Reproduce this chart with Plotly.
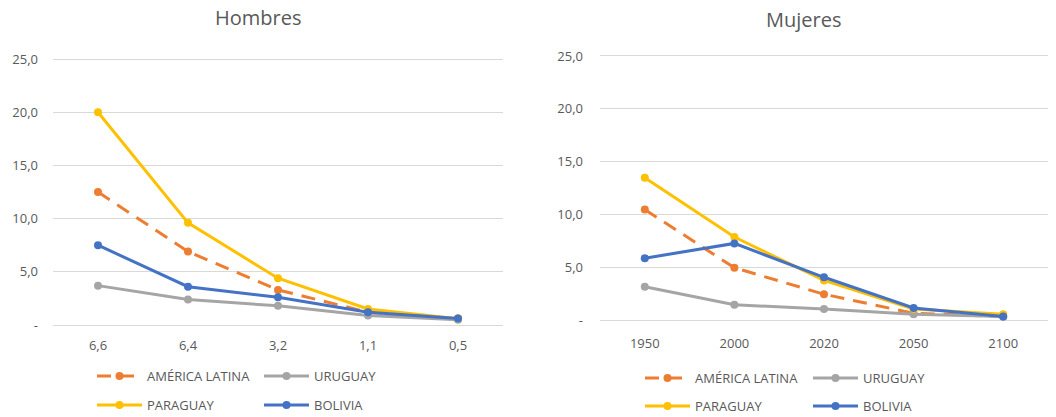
import plotly.graph_objects as go

W, H = 1056, 417

x_hombres = ["6,6", "6,4", "3,2", "1,1", "0,5"]
x_mujeres = ["1950", "2000", "2020", "2050", "2100"]

series_names = ["AMÉRICA LATINA", "URUGUAY", "PARAGUAY", "BOLIVIA"]

hombres_al = [12.5, 6.9, 3.3, 1.2, 0.6]
hombres_uy = [3.7, 2.4, 1.8, 0.9, 0.5]
hombres_py = [20.0, 9.6, 4.4, 1.5, 0.6]
hombres_bo = [7.5, 3.6, 2.6, 1.2, 0.6]

mujeres_al = [10.5, 5.0, 2.5, 0.7, 0.4]
mujeres_uy = [3.2, 1.5, 1.1, 0.6, 0.4]
mujeres_py = [13.5, 7.9, 3.8, 1.1, 0.6]
mujeres_bo = [5.9, 7.3, 4.1, 1.2, 0.4]

y_tickvals = [0, 5, 10, 15, 20, 25]
y_ticktext = ["-", "5,0", "10,0", "15,0", "20,0", "25,0"]

colors = ["#ED7D31", "#A5A5A5", "#FFC000", "#4472C4"]
dashes = ["14px,9px", "solid", "solid", "solid"]
FONT = "Open Sans"
TXT = "#595959"

fig = go.Figure()

def px_x(p):
    return p / W

def px_y(p):
    return 1 - p / H

panels = [
    ("x", "y", x_hombres, [hombres_al, hombres_uy, hombres_py, hombres_bo], ["legend", "legend", "legend2", "legend2"]),
    ("x2", "y2", x_mujeres, [mujeres_al, mujeres_uy, mujeres_py, mujeres_bo], ["legend3", "legend3", "legend4", "legend4"]),
]

for xa, ya, cats, vals, legs in panels:
    for i, (name, v) in enumerate(zip(series_names, vals)):
        fig.add_trace(go.Scatter(
            x=cats, y=v, name=name, mode="lines+markers",
            xaxis=xa, yaxis=ya, legend=legs[i],
            line=dict(color=colors[i], width=3, dash=dashes[i]),
            marker=dict(color=colors[i], size=8, symbol="circle"),
            hoverinfo="skip",
        ))

# y ranges: -0.5 .. 25.5
def ydomain(p0, p25):
    per = (p0 - p25) / 25.0
    bottom = p0 + 0.5 * per
    top = p25 - 0.5 * per
    return [px_y(bottom), px_y(top)]

axis_common = dict(showline=False, zeroline=False, ticks="", automargin=False,
                   tickfont=dict(family=FONT, size=13, color=TXT))

fig.update_layout(
    width=W, height=H,
    margin=dict(l=0, r=0, t=0, b=0, autoexpand=False),
    paper_bgcolor="white", plot_bgcolor="white",
    font=dict(family=FONT, color=TXT),
    xaxis=dict(domain=[px_x(53), px_x(503)], type="category", range=[-0.5, 4.5],
               showgrid=False, ticklabelstandoff=6, **axis_common),
    yaxis=dict(domain=ydomain(325, 59), range=[-0.5, 25.5], tickvals=y_tickvals,
               ticktext=y_ticktext, showgrid=True, gridcolor="#D9D9D9", gridwidth=1,
               ticklabelstandoff=14, **axis_common),
    xaxis2=dict(domain=[px_x(600), px_x(1048)], type="category", range=[-0.5, 4.5],
                showgrid=False, anchor="y2", ticklabelstandoff=8, **axis_common),
    yaxis2=dict(domain=ydomain(320.7, 56), range=[-0.5, 25.5], tickvals=y_tickvals,
                ticktext=y_ticktext, showgrid=True, gridcolor="#D9D9D9", gridwidth=1,
                anchor="x2", ticklabelstandoff=16, **axis_common),
    showlegend=True,
)

leg_common = dict(orientation="h", xanchor="left", yanchor="middle",
                  font=dict(family=FONT, size=13, color=TXT),
                  bgcolor="rgba(0,0,0,0)", entrywidthmode="pixels",
                  itemwidth=45, itemclick=False, itemdoubleclick=False)

fig.update_layout(
    legend=dict(x=px_x(92), y=px_y(376), entrywidth=107, **leg_common),
    legend2=dict(x=px_x(92), y=px_y(405), entrywidth=107, **leg_common),
    legend3=dict(x=px_x(640), y=px_y(378), entrywidth=108, **leg_common),
    legend4=dict(x=px_x(640), y=px_y(406), entrywidth=108, **leg_common),
)

fig.add_annotation(text="Hombres", x=px_x(258), y=px_y(18), xref="paper", yref="paper",
                   xanchor="center", yanchor="middle",
                   showarrow=False, font=dict(family=FONT, size=20, color=TXT))
fig.add_annotation(text="Mujeres", x=px_x(803), y=px_y(19), xref="paper", yref="paper",
                   xanchor="center", yanchor="middle",
                   showarrow=False, font=dict(family=FONT, size=20, color=TXT))

fig.write_html("out.html", config={"displayModeBar": False},
               post_script="document.body.style.margin='0';")
